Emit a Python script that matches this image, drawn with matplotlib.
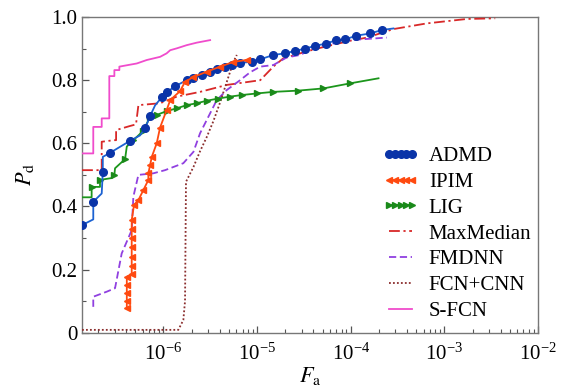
import numpy as np
import matplotlib
matplotlib.use("Agg")
import matplotlib.pyplot as plt
from matplotlib.ticker import LogLocator, LogFormatterMathtext, MultipleLocator, FixedLocator, FixedFormatter, NullFormatter

plt.rcParams['font.family'] = ['Liberation Serif', 'DejaVu Serif']
plt.rcParams['mathtext.fontset'] = 'stix'

# ---------------- data ----------------
admd_x = [1.35e-7, 1.78e-7, 1.78e-7, 2.19e-7, 2.25e-7, 2.25e-7, 2.69e-7, 4.40e-7, 5.62e-7, 6.36e-7,
          7.19e-7, 8.13e-7, 9.59e-7, 1.10e-6, 1.33e-6, 1.77e-6, 2.09e-6, 2.57e-6, 3.15e-6, 3.74e-6,
          4.55e-6, 5.41e-6, 6.58e-6, 8.78e-6, 1.08e-5, 1.49e-5, 1.99e-5, 2.55e-5, 3.26e-5, 4.17e-5,
          5.46e-5, 6.98e-5, 8.71e-5, 1.14e-4, 1.61e-4, 2.15e-4, 2.86e-4]
admd_y = [0.341, 0.359, 0.415, 0.441, 0.510, 0.557, 0.570, 0.608, 0.625, 0.647,
          0.686, 0.720, 0.746, 0.763, 0.781, 0.800, 0.808, 0.816, 0.826, 0.834,
          0.843, 0.849, 0.855, 0.858, 0.866, 0.880, 0.885, 0.893, 0.900, 0.909,
          0.916, 0.927, 0.929, 0.941, 0.948, 0.959, 0.964]
admd_marks = [0, 2, 4, 6, 7, 9, 10] + list(range(12, 36))

ipim_x = [4.06e-7, 4.06e-7, 4.06e-7, 4.06e-7, 4.06e-7, 4.58e-7, 4.58e-7, 4.58e-7, 4.58e-7, 4.58e-7,
          4.58e-7, 4.58e-7, 4.85e-7, 5.40e-7, 6.10e-7, 6.90e-7, 6.90e-7, 7.19e-7, 7.50e-7, 8.47e-7,
          9.20e-7, 1.08e-6, 1.18e-6, 1.50e-6, 1.70e-6, 2.09e-6, 2.90e-6, 4.03e-6, 5.58e-6, 7.76e-6]
ipim_y = [0.077, 0.100, 0.125, 0.150, 0.177, 0.185, 0.210, 0.240, 0.270, 0.300,
          0.330, 0.357, 0.405, 0.420, 0.452, 0.484, 0.505, 0.530, 0.557, 0.600,
          0.650, 0.705, 0.737, 0.765, 0.795, 0.810, 0.827, 0.843, 0.858, 0.864]

lig_x = [1.35e-7, 1.71e-7, 1.71e-7, 2.10e-7, 2.10e-7, 2.80e-7, 2.99e-7, 3.04e-7, 3.89e-7, 4.06e-7,
         4.77e-7, 6.10e-7, 7.19e-7, 8.47e-7, 1.08e-6, 1.39e-6, 1.77e-6, 2.27e-6, 2.90e-6, 3.86e-6,
         5.15e-6, 6.86e-6, 9.93e-6, 1.49e-5, 2.76e-5, 5.11e-5, 9.86e-5, 1.98e-4]
lig_y = [0.429, 0.429, 0.462, 0.462, 0.484, 0.490, 0.500, 0.521, 0.550, 0.590,
         0.610, 0.640, 0.684, 0.690, 0.702, 0.711, 0.721, 0.727, 0.735, 0.742,
         0.748, 0.753, 0.758, 0.763, 0.767, 0.774, 0.790, 0.806]
lig_marks = [2, 4, 6, 8, 10, 11, 12, 13, 14, 15, 16, 17, 18, 19, 20, 21, 22, 23, 24, 25, 26]

maxmed_x = [1.35e-7, 2.19e-7, 2.19e-7, 2.96e-7, 3.12e-7, 3.12e-7, 4.40e-7, 5.09e-7, 5.40e-7, 9.20e-7,
            1.39e-6, 2.46e-6, 4.75e-6, 1.08e-5, 1.49e-5, 1.90e-5, 2.88e-5, 4.35e-5, 9.86e-5, 1.49e-4,
            2.86e-4, 6.50e-4, 1.74e-3, 3.49e-3]
maxmed_y = [0.515, 0.515, 0.605, 0.610, 0.610, 0.642, 0.655, 0.660, 0.721, 0.727,
            0.748, 0.763, 0.785, 0.800, 0.843, 0.869, 0.885, 0.900, 0.925, 0.935,
            0.962, 0.980, 0.994, 0.996]

fmdnn_x = [1.78e-7, 1.78e-7, 2.48e-7, 3.04e-7, 3.58e-7, 4.58e-7, 4.77e-7, 5.40e-7, 7.80e-7, 1.04e-6,
           1.63e-6, 2.09e-6, 2.46e-6, 2.90e-6, 3.71e-6, 4.75e-6, 6.58e-6, 8.42e-6, 1.08e-5, 1.49e-5,
           2.07e-5, 2.88e-5, 4.35e-5, 9.86e-5, 2.43e-4]
fmdnn_y = [0.082, 0.114, 0.130, 0.141, 0.251, 0.325, 0.431, 0.500, 0.505, 0.515,
           0.537, 0.573, 0.632, 0.674, 0.737, 0.769, 0.800, 0.825, 0.843, 0.848,
           0.872, 0.880, 0.906, 0.927, 0.935]

fcn_x = [1.35e-7, 1.44e-6, 1.63e-6, 1.70e-6, 1.74e-6, 2.09e-6, 2.46e-6, 2.90e-6, 3.41e-6, 4.03e-6,
         4.75e-6, 5.58e-6, 6.07e-6]
fcn_y = [0.009, 0.009, 0.040, 0.100, 0.478, 0.525, 0.575, 0.620, 0.670, 0.730,
         0.795, 0.858, 0.880]

sfcn_x = [1.35e-7, 1.78e-7, 1.78e-7, 2.19e-7, 2.19e-7, 2.64e-7, 2.64e-7, 2.99e-7, 2.99e-7, 3.38e-7,
          3.38e-7, 5.19e-7, 6.64e-7, 9.20e-7, 1.08e-6, 1.18e-6, 1.39e-6, 1.77e-6, 2.27e-6, 3.15e-6]
sfcn_y = [0.568, 0.568, 0.652, 0.652, 0.679, 0.679, 0.813, 0.813, 0.832, 0.832,
          0.843, 0.853, 0.864, 0.874, 0.885, 0.895, 0.901, 0.911, 0.919, 0.927]

labels = ['ADMD', 'IPIM', 'LIG', 'MaxMedian', 'FMDNN', 'FCN+CNN', 'S-FCN']
y_ticks = [0, 0.2, 0.4, 0.6, 0.8, 1.0]
y_ticklabels = ['0', '0.2', '0.4', '0.6', '0.8', '1.0']

# ---------------- figure ----------------
fig = plt.figure(figsize=(5.63, 3.88), dpi=100)
ax = fig.add_axes([0.1457, 0.1425, 0.8099, 0.8135])

lw = 1.3
ax.plot(admd_x, admd_y, color='#1c62d2', lw=lw, marker='o', markersize=5.5,
        markerfacecolor='#0a34a8', markeredgecolor='#0a34a8', markevery=admd_marks,
        label=labels[0], zorder=6)
ax.plot(ipim_x, ipim_y, color='#ff4a10', lw=lw, marker='<', markersize=4.5,
        markerfacecolor='#ff4a10', markeredgecolor='#ff4a10', label=labels[1], zorder=7)
ax.plot(lig_x, lig_y, color='#1c961c', lw=lw, marker='>', markersize=5,
        markerfacecolor='#1a8a1a', markeredgecolor='#1a8a1a', markevery=lig_marks,
        label=labels[2], zorder=5)
ax.plot(maxmed_x, maxmed_y, color='#d82828', lw=lw, ls=(0, (6, 2, 1.2, 2)), label=labels[3], zorder=3)
ax.plot(fmdnn_x, fmdnn_y, color='#9040e0', lw=lw, ls=(0, (4, 2)), label=labels[4], zorder=3)
ax.plot(fcn_x, fcn_y, color='#8b2e2e', lw=lw, ls=(0, (1, 1.2)), label=labels[5], zorder=3)
ax.plot(sfcn_x, sfcn_y, color='#f04ccc', lw=lw, label=labels[6], zorder=4)

ax.set_xscale('log')
ax.set_xlim(1.35e-7, 1e-2)
ax.set_ylim(0, 1.0)

ax.xaxis.set_major_locator(LogLocator(base=10, numticks=20))
ax.xaxis.set_major_formatter(LogFormatterMathtext())
ax.xaxis.set_minor_locator(LogLocator(base=10, subs=np.arange(2, 10), numticks=100))
ax.xaxis.set_minor_formatter(NullFormatter())
ax.yaxis.set_major_locator(FixedLocator(y_ticks))
ax.yaxis.set_major_formatter(FixedFormatter(y_ticklabels))
ax.yaxis.set_minor_locator(MultipleLocator(0.1))

ax.tick_params(which='both', direction='in', top=False, right=False, colors='#555555',
               labelcolor='black', labelsize=15)
ax.tick_params(which='major', length=5, width=0.9)
ax.tick_params(which='minor', length=3, width=0.8)
ax.tick_params(axis='x', pad=8)
for s in ax.spines.values():
    s.set_color('#777777')
    s.set_linewidth(1.0)

ax.set_xlabel(r'$F_\mathrm{a}$', fontsize=16, labelpad=0)
ax.set_ylabel(r'$P_\mathrm{d}$', fontsize=16, labelpad=11)

leg = ax.legend(loc='upper left', bbox_to_anchor=(0.66, 0.59), frameon=False, fontsize=15,
                numpoints=5, handlelength=1.7, handletextpad=0.5, labelspacing=0.3,
                borderpad=0.0, borderaxespad=0.0)

fig.savefig('out.png', dpi=100)
